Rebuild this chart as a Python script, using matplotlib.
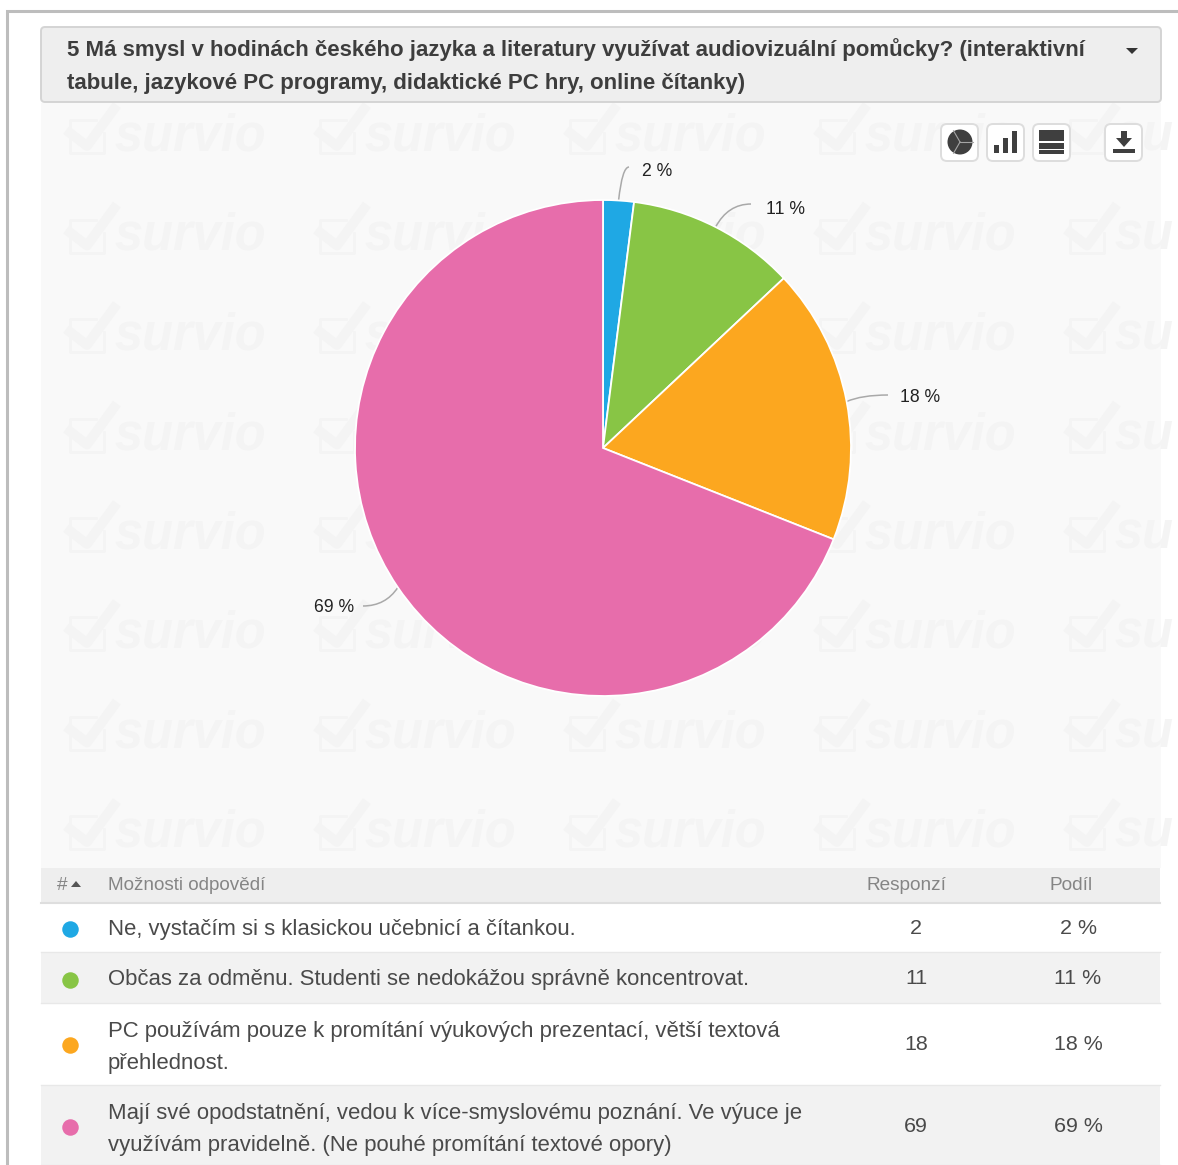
import matplotlib
matplotlib.use("Agg")
import numpy as np
import matplotlib.pyplot as plt
from matplotlib.patches import Rectangle, FancyBboxPatch, Polygon, Circle, PathPatch
from matplotlib.path import Path

plt.rcParams['font.family'] = ['Liberation Sans', 'DejaVu Sans']

W, H = 1178, 1165

title_lines = ["5 Má smysl v hodinách českého jazyka a literatury využívat audiovizuální pomůcky? (interaktivní",
               "tabule, jazykové PC programy, didaktické PC hry, online čítanky)"]
answers = [["Ne, vystačím si s klasickou učebnicí a čítankou."],
           ["Občas za odměnu. Studenti se nedokážou správně koncentrovat."],
           ["PC používám pouze k promítání výukových prezentací, větší textová", "přehlednost."],
           ["Mají své opodstatnění, vedou k více-smyslovému poznání. Ve výuce je",
            "využívám pravidelně. (Ne pouhé promítání textové opory)"]]
responses = [2, 11, 18, 69]
shares = [2, 11, 18, 69]
colors = ["#1fa8e4", "#88c545", "#fca71f", "#e76dab"]
header_labels = ["#", "Možnosti odpovědí", "Responzí", "Podíl"]

fig = plt.figure(figsize=(W / 100, H / 100), dpi=100, facecolor="white")
ax = fig.add_axes([0, 0, 1, 1])
ax.set_xlim(0, W)
ax.set_ylim(0, H)
ax.axis("off")


def Y(y):
    return H - y


def px(size):
    return size * 0.72


def rect(x0, y0, x1, y1, color, z=1):
    ax.add_patch(Rectangle((x0, Y(y1)), x1 - x0, y1 - y0, fc=color, ec="none", zorder=z))


# outer frame of the card
ax.plot([7, 7, 1178], [Y(1165), Y(11), Y(11)], color="#bdbdbd", lw=2.2, zorder=2, solid_joinstyle="miter")

# chart panel
PANEL_L, PANEL_R = 41, 1161
panel = Rectangle((PANEL_L, Y(868)), PANEL_R - PANEL_L, 868 - 103, fc="#f9f9f9", ec="none", zorder=1)
ax.add_patch(panel)

# repeating watermark behind the pie; the last column only shows its first letters
WM = "#f4f4f4"
for wy in [135, 234.5, 334, 433.5, 533, 632, 731.5, 831]:
    for wx in [68, 318, 568, 818, 1068]:
        word = "su" if wx == 1068 else "survio"
        t = ax.text(wx + 46, Y(wy + 2), word, fontsize=px(50.5), fontweight="bold", style="italic",
                    color=WM, ha="left", va="center", zorder=1.2, family="Liberation Sans")
        t.set_clip_path(panel)
        box = ax.plot([wx + 28, wx + 2, wx + 2, wx + 36, wx + 36],
                      [Y(wy - 15), Y(wy - 15), Y(wy + 18), Y(wy + 18), Y(wy - 2)],
                      color=WM, lw=2, zorder=1.2)[0]
        box.set_clip_path(panel)
        chk = ax.plot([wx + 2, wx + 19, wx + 46], [Y(wy - 2), Y(wy + 11), Y(wy - 26)],
                      color=WM, lw=7, zorder=1.2)[0]
        chk.set_clip_path(panel)

# question header
ax.add_patch(FancyBboxPatch((41, Y(102)), 1120, 75, boxstyle="round,pad=0,rounding_size=4",
                            fc="#eeeeee", ec="#d4d4d4", lw=1.4, zorder=3))
for line, y in zip(title_lines, [50, 83]):
    ax.text(67, Y(y), line, fontsize=px(22.25), fontweight="bold", color="#3d3d3d",
            ha="left", va="center", zorder=4)
ax.add_patch(Polygon([(1126, Y(48)), (1138, Y(48)), (1132, Y(54))], fc="#333333", ec="none", zorder=4))

# pie, clockwise from the top
CX, CY, R = 603, 448, 248
wedges, _ = ax.pie(shares, colors=colors, startangle=90, counterclock=False, radius=R,
                   center=(CX, Y(CY)), frame=True,
                   wedgeprops=dict(edgecolor="white", linewidth=1.3, zorder=3))
ax.set_xlim(0, W)
ax.set_ylim(0, H)
ax.axis("off")
ax.set_aspect("auto")

# value labels with curved leaders
label_xy = [(642, 171), (766, 209), (900, 397), (354, 607)]
leader_end = [(629, 167), (751, 204), (888, 395), (363, 606)]
for w, val, (lx, ly), (ex, ey) in zip(wedges, shares, label_xy, leader_end):
    mid = np.deg2rad((w.theta1 + w.theta2) / 2)
    sx, sy = CX + R * np.cos(mid), CY - R * np.sin(mid)
    cx, cy = (sx + (ex - sx) * 0.35, ey) if val != 18 else (sx + 15, ey)
    path = Path([(sx, Y(sy)), (cx, Y(cy)), (ex, Y(ey))], [Path.MOVETO, Path.CURVE3, Path.CURVE3])
    ax.add_patch(PathPatch(path, fc="none", ec="#a9a9a9", lw=1.1, zorder=2.5))
    ax.text(lx, Y(ly), f"{val} %", fontsize=px(17.6), color="#222222",
            ha="right" if val == 69 else "left", va="center", zorder=4)


# toolbar buttons
def button(x0):
    ax.add_patch(FancyBboxPatch((x0, Y(161)), 37, 37, boxstyle="round,pad=0,rounding_size=6",
                                fc="white", ec="#dddddd", lw=1.4, zorder=4))


ICON = "#3f3f3f"
for bx in [941, 987, 1033, 1105]:
    button(bx)
ax.add_patch(Circle((960, Y(142)), 12.5, fc=ICON, ec="none", zorder=5))
for a in [0, 120, 240]:
    ax.plot([960, 960 + 13 * np.cos(np.deg2rad(a))], [Y(142), Y(142) + 13 * np.sin(np.deg2rad(a))],
            color="#a5a5a5", lw=0.8, zorder=6)
for x0, top in [(994, 145), (1003, 138), (1012, 131)]:
    rect(x0, top, x0 + 5, 153, ICON, 5)
for y0, y1 in [(130, 141), (142.5, 148.5), (150, 154)]:
    rect(1039, y0, 1064, y1, ICON, 5)
rect(1113, 149, 1135, 153, ICON, 5)
rect(1121, 131, 1127, 139, ICON, 5)
ax.add_patch(Polygon([(1116, Y(138)), (1132, Y(138)), (1124, Y(147))], fc=ICON, ec="none", zorder=5))

# answer table
TABLE_R = 1160
rect(41, 868, TABLE_R, 903, "#eeeeee", 2)
ax.plot([41, TABLE_R], [Y(903), Y(903)], color="#dedede", lw=1.5, zorder=3)
HEAD = "#858585"
ax.text(57, Y(886), header_labels[0], fontsize=px(19), color=HEAD, va="center", zorder=4)
ax.add_patch(Polygon([(71, Y(887)), (81, Y(887)), (76, Y(881))], fc="#555555", ec="none", zorder=4))
ax.text(108, Y(886), header_labels[1], fontsize=px(18.9), color=HEAD, va="center", zorder=4)
ax.text(907, Y(886), header_labels[2], fontsize=px(19), color=HEAD, va="center", ha="center", zorder=4)
ax.text(1071, Y(886), header_labels[3], fontsize=px(19), color=HEAD, va="center", ha="center", zorder=4)

row_top = [903, 952, 1003, 1085]
row_bot = [952, 1003, 1085, 1165]
row_bg = ["white", "#f2f2f2", "white", "#f2f2f2"]
line_y = [[930], [980], [1031, 1063], [1113, 1145]]
dot_y = [929, 979.5, 1045, 1127]
value_y = [929, 979, 1045, 1127]
TXT = "#4a4a4a"
for i in range(4):
    rect(41, row_top[i], TABLE_R, row_bot[i], row_bg[i], 2)
    ax.plot([41, TABLE_R], [Y(row_bot[i]), Y(row_bot[i])], color="#e8e8e8", lw=1, zorder=3)
    ax.scatter([70], [Y(dot_y[i])], s=(16.5 * 0.72) ** 2, color=colors[i], linewidths=0, zorder=4)
    for line, y in zip(answers[i], line_y[i]):
        ax.text(108, Y(y), line, fontsize=px(22.1), color=TXT, va="center", zorder=4)
    ax.text(916, Y(value_y[i]), str(responses[i]), fontsize=px(21.5), color=TXT, ha="center", va="center", zorder=4)
    ax.text(1078, Y(value_y[i]), f"{shares[i]} %", fontsize=px(21.5), color=TXT, ha="center", va="center", zorder=4)

fig.savefig("out.png", dpi=100, facecolor="white")
